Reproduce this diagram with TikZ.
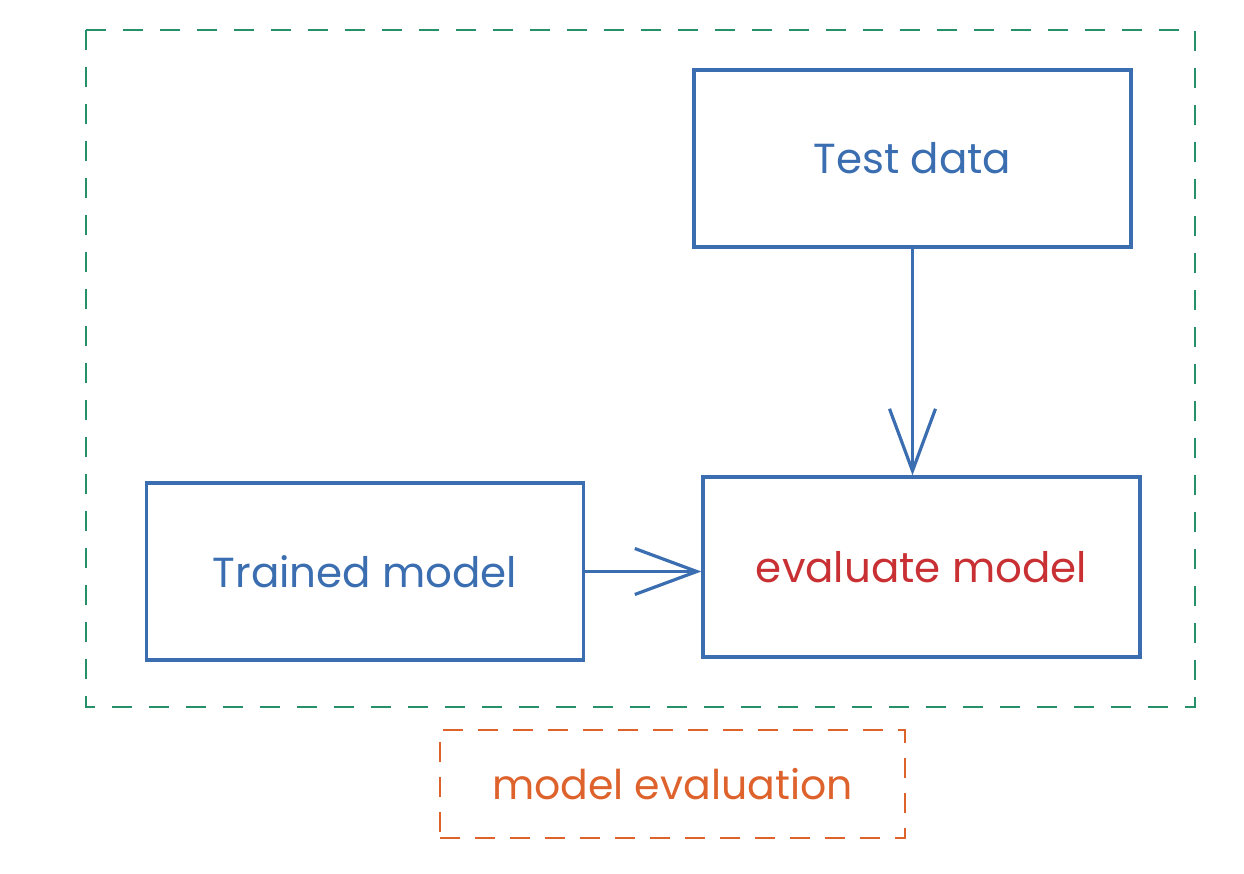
\documentclass[tikz,border=0pt]{standalone}
\usepackage{fontspec}
\setmainfont{Poppins}
\usetikzlibrary{arrows.meta}
\definecolor{boxblue}{RGB}{58,110,176}
\definecolor{evalred}{RGB}{200,48,52}
\definecolor{frgreen}{RGB}{38,145,104}
\definecolor{lblorange}{RGB}{222,98,44}
\begin{document}
\begin{tikzpicture}[x=1pt,y=-1pt,
  blockbox/.style={draw=boxblue,line width=3.2pt,text=boxblue,minimum width=437pt,minimum height=177pt,inner sep=0pt,font=\fontsize{42}{48}\selectfont},
  conn/.style={draw=boxblue,line width=3.4pt,-{Straight Barb[length=62pt,width=46pt,line width=3.2pt]}},
  framebox/.style={draw=frgreen,line width=2.8pt,dash pattern=on 20pt off 17pt},
  lblbox/.style={draw=lblorange,line width=2.6pt,dash pattern=on 20pt off 15pt,text=lblorange,minimum width=465pt,minimum height=108pt,inner sep=0pt,font=\fontsize{41}{46}\selectfont}]
\useasboundingbox (0,0) rectangle (1244,874);
\draw[framebox] (86,30) rectangle (1195,707);
\node[blockbox] (test) at (912.5,158.5) {Test data};
\node[blockbox] (trained) at (365,571.5) {Trained model};
\node[blockbox,text=evalred,minimum height=180pt] (eval) at (921.5,567) {evaluate model};
\node[lblbox] (lbl) at (672.5,784) {model evaluation};
\draw[conn] (test.south) -- (test.south |- eval.north);
\draw[conn] (trained.east) -- (eval.west |- trained.east);
\end{tikzpicture}
\end{document}
